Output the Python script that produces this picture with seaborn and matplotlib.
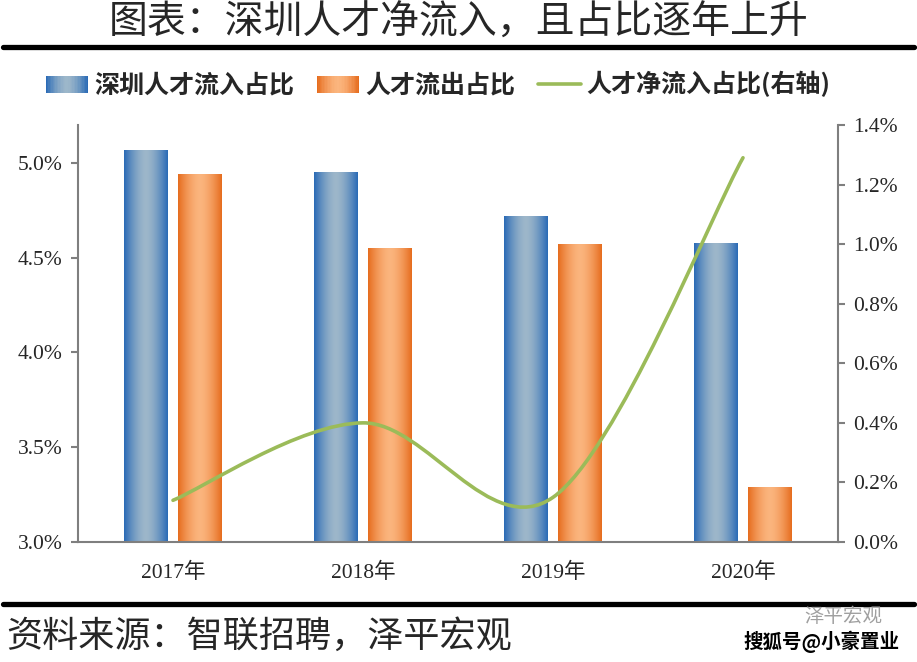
import numpy as np
import pandas as pd
import matplotlib
matplotlib.use("Agg")
import matplotlib.pyplot as plt
import seaborn as sns
from matplotlib.path import Path
from matplotlib.patches import PathPatch, Patch, Rectangle
from matplotlib.lines import Line2D
from matplotlib.legend_handler import HandlerBase
from matplotlib.colors import to_rgb

# 数据
years = ["2017年", "2018年", "2019年", "2020年"]
inflow = [5.07, 4.95, 4.72, 4.58]     # 深圳人才流入占比 (%)
outflow = [4.94, 4.55, 4.57, 3.29]    # 人才流出占比 (%)
net_inflow = [0.14, 0.40, 0.15, 1.29]  # 人才净流入占比 (%, 右轴)

series_names = ["深圳人才流入占比", "人才流出占比", "人才净流入占比(右轴)"]
title = "图表：深圳人才净流入，且占比逐年上升"
source = "资料来源：智联招聘，泽平宏观"

blue_dark, blue_light = "#2b6bb6", "#9db7ca"
orange_dark, orange_light = "#e66d1f", "#fbb57e"
green = "#9bbb59"
gray = "#7f7f7f"

sns.set_style("white")
plt.rcParams["font.family"] = ["Liberation Serif", "Noto Sans CJK SC", "DejaVu Sans"]
cjk = ["Noto Sans CJK SC", "DejaVu Sans"]


def grad_colors(dark, light, n):
    d, l = np.array(to_rgb(dark)), np.array(to_rgb(light))
    t = np.linspace(0, 1, n)
    w = 1 - np.abs(2 * t - 1) ** 1.6
    return d[None, :] * (1 - w[:, None]) + l[None, :] * w[:, None]


class GradHandler(HandlerBase):
    def __init__(self, dark, light):
        super().__init__()
        self.dark, self.light = dark, light

    def create_artists(self, legend, orig_handle, xdescent, ydescent,
                       width, height, fontsize, trans):
        n = 30
        cols = grad_colors(self.dark, self.light, n)
        arts = []
        for k in range(n):
            r = Rectangle((-xdescent + k * width / n, -ydescent - 0.1 * height),
                          width / n * 1.05, height * 1.05,
                          facecolor=cols[k], edgecolor="none", transform=trans)
            arts.append(r)
        return arts


df = pd.DataFrame({
    "year": years * 2,
    "value": inflow + outflow,
    "series": [series_names[0]] * 4 + [series_names[1]] * 4,
})

fig = plt.figure(figsize=(9.17, 6.62), dpi=100)
ax = fig.add_axes([78 / 917, 1 - 542 / 662, 760 / 917, 417 / 662])

sns.barplot(data=df, x="year", y="value", hue="series",
            palette=[blue_dark, orange_dark], width=0.57, gap=0.2,
            errorbar=None, legend=False, ax=ax)

# 渐变填充
pairs = [(blue_dark, blue_light), (orange_dark, orange_light)]
for cont, (dk, lt) in zip(ax.containers, pairs):
    img = grad_colors(dk, lt, 64)[None, :, :]
    for bar in cont.patches:
        x0, w = bar.get_x(), bar.get_width()
        top = bar.get_y() + bar.get_height()
        im = ax.imshow(img, extent=[x0, x0 + w, 3.0, top], aspect="auto",
                       interpolation="bilinear", zorder=bar.get_zorder() + 0.1)
        im.set_clip_path(bar)
        bar.set_facecolor("none")
        bar.set_edgecolor("none")

ax.set_xlim(-0.5, 3.5)
ax.set_ylim(3.0, 5.2)
ax.set_yticks([3.0, 3.5, 4.0, 4.5, 5.0])
ax.set_yticklabels([f"{v:.1f}%" for v in [3.0, 3.5, 4.0, 4.5, 5.0]])
ax.set_xlabel("")
ax.set_ylabel("")
ax.set_xticks([0.5, 1.5, 2.5], minor=True)
ax.tick_params(axis="x", which="major", length=0, pad=15, labelsize=15.5)
ax.tick_params(axis="x", which="minor", length=6, width=1.5, color=gray, direction="out")
ax.tick_params(axis="y", length=5, width=1.5, color=gray, direction="out", labelsize=15.5, pad=6)
for lab in ax.get_xticklabels():
    lab.set_family(["Liberation Serif", "Noto Sans CJK SC"])
for s in ["top", "right"]:
    ax.spines[s].set_visible(False)
for s in ["left", "bottom"]:
    ax.spines[s].set_color(gray)
    ax.spines[s].set_linewidth(1.5)

# 右轴：平滑曲线
ax2 = ax.twinx()
ax2.set_ylim(0, 1.4)
ax2.set_yticks(np.arange(0, 1.41, 0.2))
ax2.set_yticklabels([f"{v:.1f}%" for v in np.arange(0, 1.41, 0.2)])
ax2.tick_params(axis="y", length=5, width=1.5, color=gray, direction="out", labelsize=15.5, pad=6)
for s in ["top", "left", "bottom"]:
    ax2.spines[s].set_visible(False)
ax2.spines["right"].set_color(gray)
ax2.spines["right"].set_linewidth(1.5)

pts = np.column_stack([np.arange(len(net_inflow)), net_inflow]).astype(float)
ext = np.vstack([pts[0], pts, pts[-1]])
verts = [tuple(pts[0])]
codes = [Path.MOVETO]
for i in range(len(pts) - 1):
    p0, p1, p2, p3 = ext[i], ext[i + 1], ext[i + 2], ext[i + 3]
    c1 = p1 + (p2 - p0) / 6
    c2 = p2 - (p3 - p1) / 6
    verts += [tuple(c1), tuple(c2), tuple(p2)]
    codes += [Path.CURVE4] * 3
ax2.add_patch(PathPatch(Path(verts, codes), facecolor="none", edgecolor=green,
                        lw=2.6, capstyle="round", zorder=5))

# 图例
h_blue = Patch(label=series_names[0])
h_orange = Patch(label=series_names[1])
h_line = Line2D([], [], color=green, lw=2.6, label=series_names[2])
leg = fig.legend(handles=[h_blue, h_orange, h_line],
                 handler_map={h_blue: GradHandler(blue_dark, blue_light),
                              h_orange: GradHandler(orange_dark, orange_light)},
                 loc="center left", bbox_to_anchor=(33 / 917, 1 - 84 / 662),
                 ncol=3, frameon=False, borderpad=0, handlelength=1.7,
                 handleheight=0.6, handletextpad=0.25, columnspacing=0.9,
                 prop={"family": cjk, "size": 18, "weight": "bold"})

# 标题与横线
fig.text(0.5, 1 - 23 / 662, title, ha="center", va="center",
         fontsize=28, family=cjk, weight="light")
fig.add_artist(Line2D([3 / 917, 914 / 917], [1 - 47 / 662] * 2, color="black", lw=3.8))
fig.add_artist(Line2D([3 / 917, 914 / 917], [1 - 604 / 662] * 2, color="black", lw=3.8))

fig.text(6 / 917, 1 - 637 / 662, source, ha="left", va="center",
         fontsize=26, family=cjk, style="italic")
fig.text(843 / 917, 1 - 617 / 662, "泽平宏观", ha="center", va="center",
         fontsize=14, family=cjk, color="#a0a0a0")
fig.text(822 / 917, 1 - 642 / 662, "搜狐号@小豪置业", ha="center", va="center",
         fontsize=14, family=cjk, weight="bold", color="black")

fig.savefig("out.png", dpi=100)
